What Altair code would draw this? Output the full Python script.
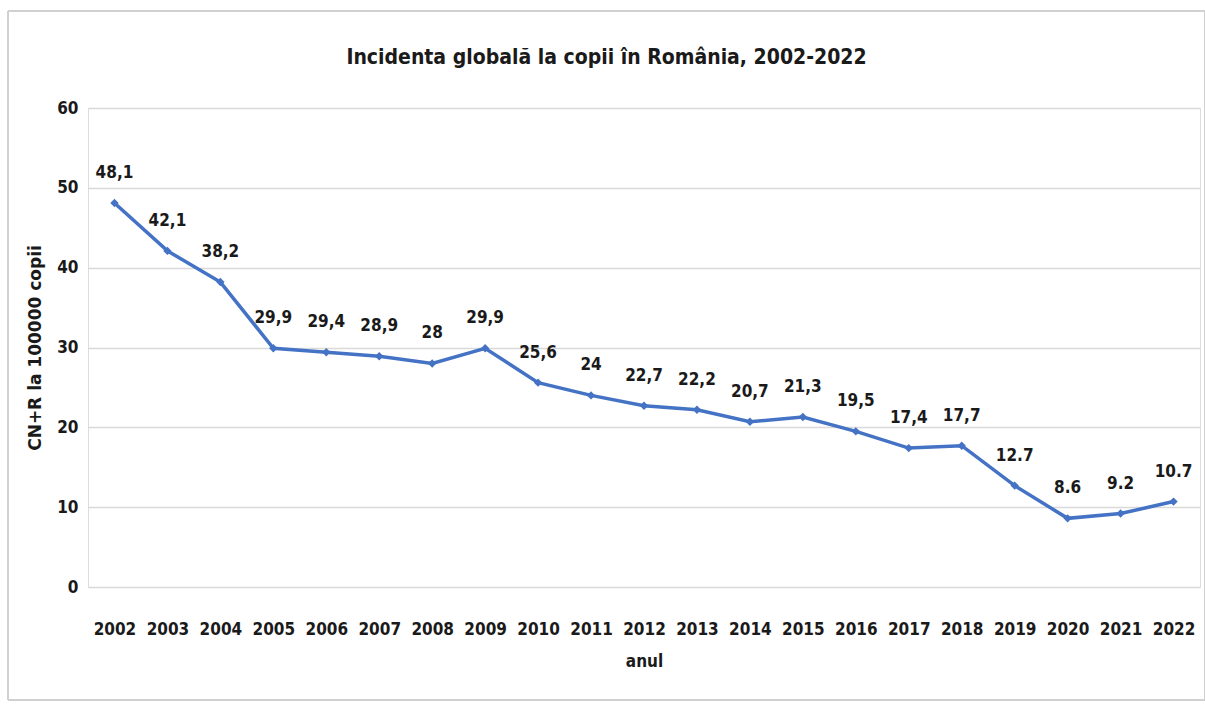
import altair as alt
import pandas as pd

years = [str(y) for y in range(2002, 2023)]
values = [48.1, 42.1, 38.2, 29.9, 29.4, 28.9, 28.0, 29.9, 25.6, 24.0, 22.7, 22.2,
          20.7, 21.3, 19.5, 17.4, 17.7, 12.7, 8.6, 9.2, 10.7]
labels = ["48,1", "42,1", "38,2", "29,9", "29,4", "28,9", "28", "29,9", "25,6", "24",
          "22,7", "22,2", "20,7", "21,3", "19,5", "17,4", "17,7", "12.7", "8.6", "9.2", "10.7"]

df = pd.DataFrame({"anul": years, "val": values, "lab": labels})

FONT = "Liberation Sans Narrow, DejaVu Sans Condensed, Roboto, sans-serif"
BLUE = "#4472C4"
INK = "#1a1a1a"

x = alt.X("anul:O", title="anul",
          scale=alt.Scale(paddingInner=1, paddingOuter=0.5),
          axis=alt.Axis(labelAngle=0, labelFont=FONT, labelFontSize=17, labelColor=INK,
                        labelFontWeight="bold",
                        labelPadding=34, ticks=False, domain=False,
                        titleFont=FONT, titleFontSize=17, titleFontWeight="bold",
                        titleColor=INK, titlePadding=16))
y = alt.Y("val:Q", title="CN+R la 100000 copii",
          scale=alt.Scale(domain=[0, 60]),
          axis=alt.Axis(values=[0, 10, 20, 30, 40, 50, 60], labelFont=FONT, labelFontSize=17,
                        labelFontWeight="bold",
                        labelColor=INK, labelPadding=10, ticks=False, domain=False,
                        gridColor="#d9d9d9", gridWidth=1.5,
                        titleFont="DejaVu Sans, Verdana, sans-serif", titleFontSize=17,
                        titleFontWeight="bold", titleColor=INK, titlePadding=12))

base = alt.Chart(df)
line = base.mark_line(color=BLUE, strokeWidth=3.5).encode(x=x, y=y)
pts = base.mark_point(shape="diamond", filled=True, color=BLUE, size=70, opacity=1).encode(x=x, y=y)
txt = base.mark_text(font=FONT, fontSize=17, fontWeight="bold", color=INK, dy=-30).encode(
    x=x, y=y, text="lab:N")

frame = base.mark_rect(fill=None, stroke="#d0d0d0", strokeWidth=1).encode(
    x=alt.value(-80), x2=alt.value(1117), y=alt.value(-97), y2=alt.value(592))

chart = alt.layer(frame, line, pts, txt).properties(
    width=1112, height=479,
    title=alt.TitleParams("Incidenta globală la copii în România, 2002-2022",
                          font=FONT, fontSize=21, fontWeight="bold", color=INK,
                          anchor="middle", frame="bounds", offset=-57),
    padding={"left": 88, "top": 108, "right": 5, "bottom": 117},
    autosize=alt.AutoSizeParams(type="none"),
).configure_view(stroke="#d9d9d9", strokeWidth=1.5).configure(background="white")

chart.save("out.html", embed_options={"renderer": "svg", "actions": False})
